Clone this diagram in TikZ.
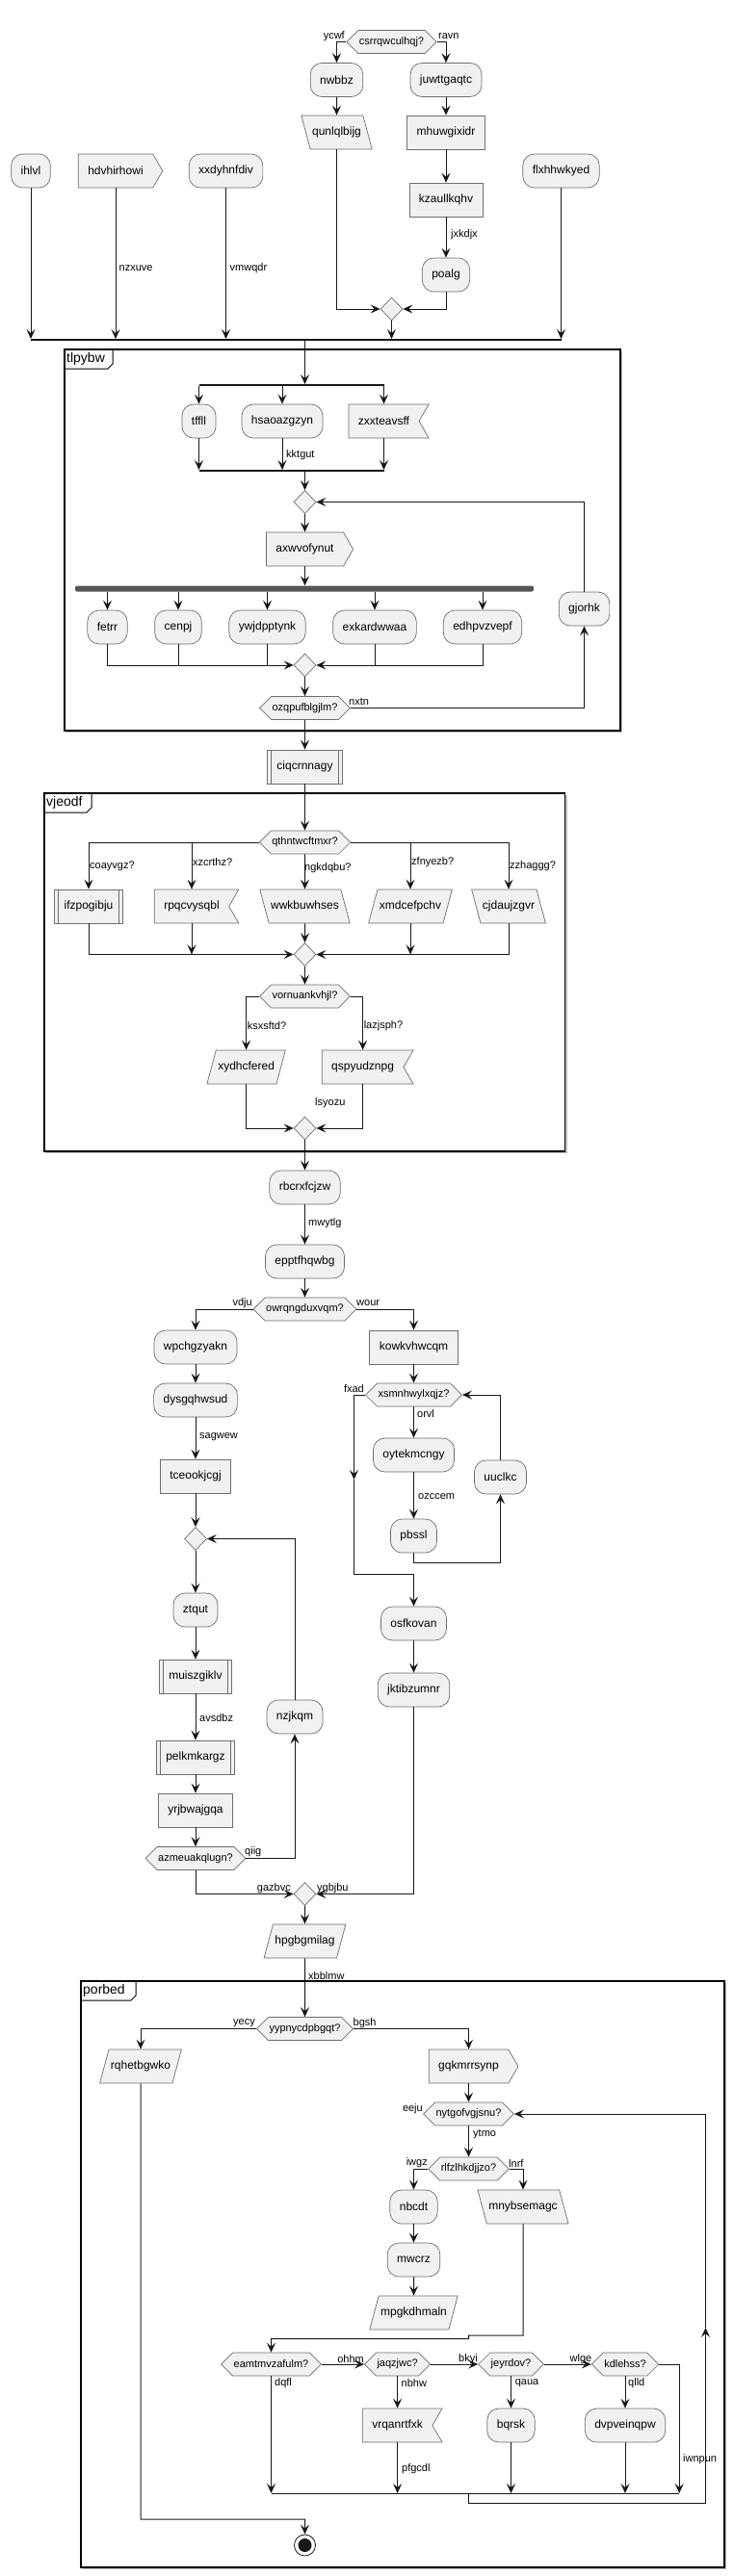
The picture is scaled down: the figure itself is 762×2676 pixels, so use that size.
\documentclass[tikz,border=0pt]{standalone}
\usepackage{fontspec}
\setmainfont{Liberation Sans}
\usetikzlibrary{arrows.meta,shapes.geometric,shapes.symbols,calc}
\definecolor{nodefill}{HTML}{F1F1F1}
\definecolor{nodeline}{HTML}{6E6E6E}
\definecolor{arrline}{HTML}{181818}
\definecolor{barfill}{HTML}{555555}
\tikzset{
  act/.style={draw=nodeline, fill=nodefill, line width=0.7pt, font=\fontsize{12}{14}\selectfont, minimum height=35pt, inner xsep=10pt, inner ysep=0pt},
  rnd/.style={act, rectangle, rounded corners=12pt},
  box/.style={act, rectangle},
  sub/.style={act, rectangle, path picture={\draw[nodeline, line width=0.7pt] ([xshift=4pt]path picture bounding box.north west) -- ([xshift=4pt]path picture bounding box.south west) ([xshift=-4pt]path picture bounding box.north east) -- ([xshift=-4pt]path picture bounding box.south east);}},
  arw/.style={act, signal, signal to=east, signal pointer angle=120},
  ntc/.style={act, signal, signal to=nowhere, signal from=east, signal pointer angle=120},
  trp/.style={act, trapezium, minimum height=0pt, text height=9pt, text depth=3pt, inner ysep=11.5pt, inner xsep=2pt},
  pr/.style={trp, trapezium left angle=75, trapezium right angle=105},
  pl/.style={trp, trapezium left angle=105, trapezium right angle=75},
  hex/.style={act, signal, signal to=east and west, signal pointer angle=90, minimum height=24pt, inner xsep=1pt, font=\fontsize{11}{13}\selectfont},
  mrg/.style={draw=nodeline, fill=nodefill, diamond, minimum width=23pt, minimum height=24pt, inner sep=0pt, line width=0.7pt},
  sbar/.style={fill=arrline, minimum height=1.5pt, inner sep=0pt, rectangle},
  fork/.style={fill=barfill, minimum height=6pt, inner sep=0pt, rounded corners=2pt, rectangle},
  endn/.style={circle, draw=arrline, fill=white, minimum size=22pt, inner sep=0pt, line width=0.8pt, path picture={\fill[arrline] (path picture bounding box.center) circle (7pt);}},
  lbl/.style={font=\fontsize{11}{13}\selectfont, inner sep=1pt, text=black},
  ftitle/.style={font=\fontsize{14}{16}\selectfont, inner sep=0pt, anchor=west},
  arr/.style={draw=arrline, line width=1pt, -{Stealth[length=10pt,width=9pt,inset=4pt]}},
  ln/.style={draw=arrline, line width=1pt},
  frm/.style={draw=black, line width=1.5pt},
  frmtab/.style={draw=black, line width=1pt},
  shd/.style={draw=black!25, line width=1.2pt}
}
\begin{document}
\begin{tikzpicture}[x=1pt,y=-1pt]
\useasboundingbox (0,0) rectangle (762,2676);
% frames
\draw[shd] (68.5,760.5) -- (645.5,760.5) -- (645.5,364.5);
\draw[frm] (67,363) rectangle (644,759);
\draw[frmtab] (67,383) -- (112,383) -- (117,378) -- (117,363);
\node[ftitle] (ft1) at (69,373) {tlpybw};
\draw[shd] (47.5,1197.5) -- (588,1197.5) -- (588,825.5);
\draw[frm] (46,824) rectangle (586.5,1196);
\draw[frmtab] (46,844) -- (90,844) -- (95,839) -- (95,824);
\node[ftitle] (ft2) at (48,834) {vjeodf};
\draw[shd] (85.5,2668.5) -- (753.5,2668.5) -- (753.5,2059.5);
\draw[frm] (84,2058) rectangle (752,2667);
\draw[frmtab] (84,2078) -- (136,2078) -- (141,2073) -- (141,2058);
\node[ftitle] (ft3) at (86,2068) {porbed};
% nodes top
\node[hex] (csr) at (406.5,43.5) {csrrqwculhqj?};
\node[rnd] (nwbbz) at (349.5,83) {nwbbz};
\node[rnd] (juw) at (463,83) {juwttgaqtc};
\node[pl] (qunl) at (349.5,137.5) {qunlqlbijg};
\node[box] (mhuw) at (463,137.5) {mhuwgixidr};
\node[box] (kzau) at (463,207.5) {kzaullkqhv};
\node[rnd] (poalg) at (463,285.5) {poalg};
\node[mrg] (m1) at (406.5,321) {};
\node[rnd] (ihlvl) at (32,177.5) {ihlvl};
\node[arw] (hdvh) at (120,177.5) {hdvhirhowi};
\node[rnd] (xxdy) at (234.5,177.5) {xxdyhnfdiv};
\node[rnd] (flxh) at (582.5,177.5) {flxhhwkyed};
\node[sbar, minimum width=551.4pt] (bar0) at (307.3,353) {};
% tlpybw
\node[sbar, minimum width=192pt] (sp1) at (303,400) {};
\node[rnd] (tffll) at (206.5,437.5) {tffll};
\node[rnd] (hsao) at (293,437.5) {hsaoazgzyn};
\node[ntc] (zxxt) at (398.5,437.5) {zxxteavsff};
\node[sbar, minimum width=192pt] (sp2) at (303,489) {};
\node[mrg] (d2) at (316.5,521.5) {};
\node[arw] (axwv) at (316.5,570.5) {axwvofynut};
\node[fork, minimum width=476pt] (fk) at (316,611.5) {};
\node[rnd] (fetrr) at (111.5,651.5) {fetrr};
\node[rnd] (cenpj) at (185,651.5) {cenpj};
\node[rnd] (ywj) at (277.5,651.5) {ywjdpptynk};
\node[rnd] (exk) at (389,651.5) {exkardwwaa};
\node[rnd] (edh) at (501,651.5) {edhpvzvepf};
\node[rnd] (gjo) at (606.5,632.5) {gjorhk};
\node[mrg] (m3) at (316.5,691) {};
\node[hex] (ozq) at (316.5,735.5) {ozqpufblgjlm?};
\node[sub] (ciq) at (316.5,796.5) {ciqcrnnagy};
% vjeodf
\node[hex] (qth) at (316.5,875) {qthntwcftmxr?};
\node[sub] (ifz) at (92,941.5) {ifzpogibju};
\node[ntc] (rpq) at (199,941.5) {rpqcvysqbl};
\node[pl] (wwk) at (316.5,941.5) {wwkbuwhses};
\node[pr] (xmd) at (426,941.5) {xmdcefpchv};
\node[pl] (cjd) at (528,941.5) {cjdaujzgvr};
\node[mrg] (m4) at (316.5,991.5) {};
\node[hex] (vor) at (316.5,1035) {vornuankvhjl?};
\node[pr] (xyd) at (255.6,1108.5) {xydhcfered};
\node[ntc] (qsp) at (376.6,1108.5) {qspyudznpg};
\node[mrg] (m5) at (316.5,1172) {};
% middle
\node[rnd] (rbc) at (316.5,1233.5) {rbcrxfcjzw};
\node[rnd] (epp) at (316.5,1310.5) {epptfhqwbg};
\node[hex] (owr) at (316.5,1360) {owrqngduxvqm?};
\node[rnd] (wpc) at (203,1399.5) {wpchgzyakn};
\node[box] (kow) at (429.5,1399.5) {kowkvhwcqm};
\node[rnd] (dys) at (203,1454.5) {dysgqhwsud};
\node[box] (tce) at (203,1533.5) {tceookjcgj};
\node[hex] (xsm) at (429.5,1449) {xsmnhwylxqjz?};
\node[rnd] (oyt) at (429.5,1511.5) {oytekmcngy};
\node[rnd] (uuc) at (519.5,1534.5) {uuclkc};
\node[rnd] (pbs) at (429.5,1595.5) {pbssl};
\node[mrg] (d6) at (203,1598.5) {};
\node[rnd] (ztq) at (203,1672.5) {ztqut};
\node[sub] (mui) at (203,1741.5) {muiszgiklv};
\node[rnd] (nzj) at (306,1783.5) {nzjkqm};
\node[rnd] (osf) at (429.5,1686.5) {osfkovan};
\node[rnd] (jkt) at (429.5,1755.5) {jktibzumnr};
\node[sub] (pel) at (203,1825.5) {pelkmkargz};
\node[box] (yrj) at (203,1880.5) {yrjbwajgqa};
\node[hex] (azm) at (203,1930.5) {azmeuakqlugn?};
\node[mrg] (m7) at (316.5,1967.5) {};
\node[pr] (hpg) at (316.5,2016.5) {hpgbgmilag};
% porbed
\node[hex] (yyp) at (316.5,2107.5) {yypnycdpbgqt?};
\node[pr] (rqh) at (146,2146.5) {rqhetbgwko};
\node[arw] (gqk) at (486.5,2146.5) {gqkmrrsynp};
\node[hex] (nyt) at (486.5,2196) {nytgofvgjsnu?};
\node[hex] (rlf) at (486.5,2253) {rlfzlhkdjjzo?};
\node[rnd] (nbc) at (429.5,2292.5) {nbcdt};
\node[pl] (mny) at (543,2292.5) {mnybsemagc};
\node[rnd] (mwc) at (429.5,2347.5) {mwcrz};
\node[pr] (mpg) at (429.5,2402.5) {mpgkdhmaln};
\node[hex] (eam) at (281.5,2456) {eamtmvzafulm?};
\node[hex] (jaq) at (412.6,2456) {jaqzjwc?};
\node[hex] (jey) at (530.5,2456) {jeyrdov?};
\node[hex] (kdl) at (649,2456) {kdlehss?};
\node[ntc] (vrq) at (412.6,2519.5) {vrqanrtfxk};
\node[rnd] (bqr) at (530.5,2519.5) {bqrsk};
\node[rnd] (dvp) at (649,2519.5) {dvpveinqpw};
\node[sbar, minimum width=423.5pt, minimum height=1pt] (mb) at (493.25,2590.7) {};
\node[endn] (end) at (316.5,2644) {};
% coordinates
\coordinate (pb1) at (429.5,1623);
\coordinate (fx1) at (367.5,1449);
\coordinate (fx2) at (367.5,1537);
\coordinate (fx3) at (367.5,1635);
\coordinate (mn1) at (543,2426);
\coordinate (mn2) at (486.5,2426);
\coordinate (mn3) at (486.5,2429.5);
\coordinate (bk1) at (486.5,2600);
\coordinate (bk2) at (732.5,2600);
\coordinate (bk3) at (732.5,2418);
\coordinate (e1) at (146,2617);
% connectors top
\draw[arr] (csr.west) -| (nwbbz.north);
\draw[arr] (csr.east) -| (juw.north);
\draw[arr] (nwbbz.south) -- (qunl.north);
\draw[arr] (juw.south) -- (mhuw.north);
\draw[arr] (mhuw.south) -- (kzau.north);
\draw[arr] (kzau.south) -- (poalg.north);
\draw[arr] (qunl.south) |- (m1.west);
\draw[arr] (poalg.south) |- (m1.east);
\draw[arr] (m1.south) -- (m1.south |- bar0.north);
\draw[arr] (ihlvl.south) -- (ihlvl.south |- bar0.north);
\draw[arr] (hdvh.south) -- (hdvh.south |- bar0.north);
\draw[arr] (xxdy.south) -- (xxdy.south |- bar0.north);
\draw[arr] (flxh.south) -- (flxh.south |- bar0.north);
\draw[arr] (bar0.south -| d2.center) -- (sp1.north -| d2.center);
\draw[arr] (sp1.south -| tffll.north) -- (tffll.north);
\draw[arr] (sp1.south -| hsao.north) -- (hsao.north);
\draw[arr] (sp1.south -| zxxt.north) -- (zxxt.north);
\draw[arr] (tffll.south) -- (tffll.south |- sp2.north);
\draw[arr] (hsao.south) -- (hsao.south |- sp2.north);
\draw[arr] (zxxt.south) -- (zxxt.south |- sp2.north);
\draw[arr] (sp2.south -| d2.north) -- (d2.north);
\draw[arr] (d2.south) -- (axwv.north);
\draw[arr] (axwv.south) -- (axwv.south |- fk.north);
\draw[arr] (fk.south -| fetrr.north) -- (fetrr.north);
\draw[arr] (fk.south -| cenpj.north) -- (cenpj.north);
\draw[arr] (fk.south -| ywj.north) -- (ywj.north);
\draw[arr] (fk.south -| exk.north) -- (exk.north);
\draw[arr] (fk.south -| edh.north) -- (edh.north);
\draw[arr] (fetrr.south) |- (m3.west);
\draw[ln] (cenpj.south) -- (cenpj.south |- m3.west);
\draw[ln] (ywj.south) -- (ywj.south |- m3.west);
\draw[arr] (edh.south) |- (m3.east);
\draw[ln] (exk.south) -- (exk.south |- m3.east);
\draw[arr] (m3.south) -- (ozq.north);
\draw[arr] (ozq.east) -| (gjo.south);
\draw[arr] (gjo.north) |- (d2.east);
\draw[arr] (ozq.south) -- (ciq.north);
\draw[arr] (ciq.south) -- (qth.north);
\draw[arr] (qth.west) -| (ifz.north);
\draw[arr] (qth.east) -| (cjd.north);
\draw[arr] (rpq.north |- qth.west) -- (rpq.north);
\draw[arr] (xmd.north |- qth.east) -- (xmd.north);
\draw[arr] (qth.south) -- (wwk.north);
\draw[arr] (ifz.south) |- (m4.west);
\draw[arr] (rpq.south) -- (rpq.south |- m4.west);
\draw[arr] (wwk.south) -- (m4.north);
\draw[arr] (xmd.south) -- (xmd.south |- m4.east);
\draw[arr] (cjd.south) |- (m4.east);
\draw[arr] (m4.south) -- (vor.north);
\draw[arr] (vor.west) -| (xyd.north);
\draw[arr] (vor.east) -| (qsp.north);
\draw[arr] (xyd.south) |- (m5.west);
\draw[arr] (qsp.south) |- (m5.east);
\draw[arr] (m5.south) -- (rbc.north);
\draw[arr] (rbc.south) -- (epp.north);
\draw[arr] (epp.south) -- (owr.north);
\draw[arr] (owr.west) -| (wpc.north);
\draw[arr] (owr.east) -| (kow.north);
\draw[arr] (wpc.south) -- (dys.north);
\draw[arr] (dys.south) -- (tce.north);
\draw[arr] (tce.south) -- (d6.north);
\draw[arr] (d6.south) -- (ztq.north);
\draw[arr] (ztq.south) -- (mui.north);
\draw[arr] (mui.south) -- (pel.north);
\draw[arr] (pel.south) -- (yrj.north);
\draw[arr] (yrj.south) -- (azm.north);
\draw[arr] (azm.east) -| (nzj.south);
\draw[arr] (nzj.north) |- (d6.east);
\draw[arr] (azm.south) |- (m7.west);
\draw[arr] (kow.south) -- (xsm.north);
\draw[arr] (xsm.south) -- (oyt.north);
\draw[arr] (oyt.south) -- (pbs.north);
\draw[arr] (pbs.south) -- (pb1) -| (uuc.south);
\draw[arr] (uuc.north) |- (xsm.east);
\draw[arr] (xsm.west) -- (fx1) -- (fx2);
\draw[arr] (fx2) -- (fx3) -| (osf.north);
\draw[arr] (osf.south) -- (jkt.north);
\draw[arr] (jkt.south) |- (m7.east);
\draw[arr] (m7.south) -- (hpg.north);
\draw[arr] (hpg.south) -- (yyp.north);
\draw[arr] (yyp.west) -| (rqh.north);
\draw[arr] (yyp.east) -| (gqk.north);
\draw[arr] (gqk.south) -- (nyt.north);
\draw[arr] (nyt.south) -- (rlf.north);
\draw[arr] (rlf.west) -| (nbc.north);
\draw[arr] (rlf.east) -| (mny.north);
\draw[arr] (nbc.south) -- (mwc.north);
\draw[arr] (mwc.south) -- (mpg.north);
\draw[arr] (mny.south) -- (mn1) -- (mn2) -- (mn3) -| (eam.north);
\draw[arr] (eam.east) -- (jaq.west);
\draw[arr] (jaq.east) -- (jey.west);
\draw[arr] (jey.east) -- (kdl.west);
\draw[arr] (kdl.east) -| (mb.north east);
\draw[arr] (eam.south) -- (eam.south |- mb.north);
\draw[arr] (jaq.south) -- (vrq.north);
\draw[arr] (jey.south) -- (bqr.north);
\draw[arr] (kdl.south) -- (dvp.north);
\draw[arr] (vrq.south) -- (vrq.south |- mb.north);
\draw[arr] (bqr.south) -- (bqr.south |- mb.north);
\draw[arr] (dvp.south) -- (dvp.south |- mb.north);
\draw[arr] (mb.south -| rlf.south) -- (bk1) -- (bk2) -- (bk3);
\draw[arr] (bk3) |- (nyt.east);
\draw[arr] (rqh.south) -- (e1) -| (end.north);
% labels
\node[lbl, anchor=east] (la1) at (359,37.5) {ycwf};
\node[lbl, anchor=west] (la2) at (454,37.5) {ravn};
\node[lbl, anchor=west] (la3) at (467,244) {jxkdjx};
\node[lbl, anchor=west] (la4) at (122.5,279) {nzxuve};
\node[lbl, anchor=west] (la5) at (237.5,279) {vmwqdr};
\node[lbl, anchor=west] (la6) at (296,473) {kktgut};
\node[lbl, anchor=west] (la7) at (361,729) {nxtn};
\node[lbl, anchor=west] (la8) at (92,900) {coayvgz?};
\node[lbl, anchor=west] (la9) at (199,896) {xzcrthz?};
\node[lbl, anchor=west] (la10) at (315,902) {ngkdqbu?};
\node[lbl, anchor=west] (la11) at (426,896) {zfnyezb?};
\node[lbl, anchor=west] (la12) at (528,900) {zzhaggg?};
\node[lbl, anchor=west] (la13) at (255.6,1066) {ksxsftd?};
\node[lbl, anchor=west] (la14) at (376.6,1066) {lazjsph?};
\node[lbl, anchor=west] (la15) at (326,1146) {lsyozu};
\node[lbl, anchor=west] (la16) at (319,1271) {mwytlg};
\node[lbl, anchor=east] (la17) at (263,1354) {vdju};
\node[lbl, anchor=west] (la18) at (369,1354) {wour};
\node[lbl, anchor=west] (la19) at (206,1493) {sagwew};
\node[lbl, anchor=east] (la20) at (379,1443) {fxad};
\node[lbl, anchor=west] (la21) at (432,1469) {orvl};
\node[lbl, anchor=west] (la22) at (433,1555) {ozccem};
\node[lbl, anchor=west] (la23) at (206,1785) {avsdbz};
\node[lbl, anchor=west] (la24) at (253,1924) {qiig};
\node[lbl, anchor=east] (la25) at (303,1962) {gazbvc};
\node[lbl, anchor=west] (la26) at (328,1962) {ygbjbu};
\node[lbl, anchor=west] (la27) at (319,2053) {xbblmw};
\node[lbl, anchor=east] (la28) at (266,2102) {yecy};
\node[lbl, anchor=west] (la29) at (365.5,2102) {bgsh};
\node[lbl, anchor=east] (la30) at (440,2191) {eeju};
\node[lbl, anchor=west] (la31) at (490,2217) {ytmo};
\node[lbl, anchor=east] (la32) at (445,2247) {iwgz};
\node[lbl, anchor=west] (la33) at (527,2247) {lnrf};
\node[lbl, anchor=east] (la34) at (379,2451) {ohhm};
\node[lbl, anchor=east] (la35) at (497,2451) {bkyi};
\node[lbl, anchor=east] (la36) at (615.5,2451) {wlge};
\node[lbl, anchor=west] (la37) at (284,2476) {dqfl};
\node[lbl, anchor=west] (la38) at (415.5,2476) {nbhw};
\node[lbl, anchor=west] (la39) at (533.6,2476) {qaua};
\node[lbl, anchor=west] (la40) at (651,2476) {qlld};
\node[lbl, anchor=west] (la41) at (416,2565) {pfgcdl};
\node[lbl, anchor=west] (la42) at (708,2555) {iwnpun};
\end{tikzpicture}
\end{document}
